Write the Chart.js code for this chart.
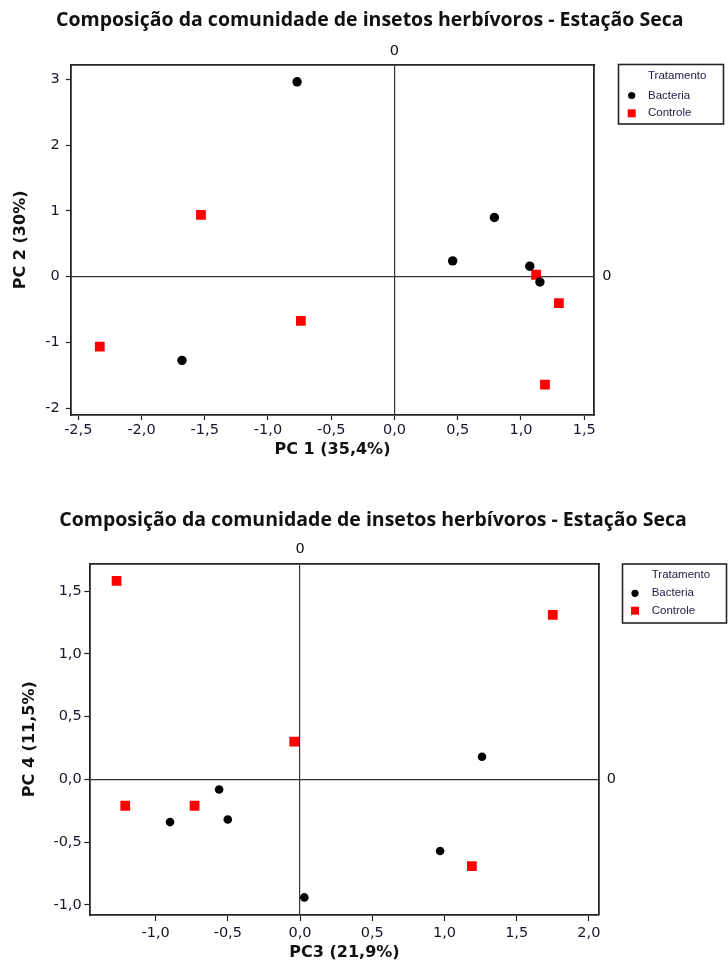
<!DOCTYPE html>
<html><head><meta charset="utf-8">
<script src="https://cdn.jsdelivr.net/npm/chart.js@4.4.1/dist/chart.umd.min.js"></script>
<style>
html,body{margin:0;padding:0;background:#fff;}
#wrap{position:relative;width:728px;height:966px;overflow:hidden;background:#fff;}
canvas{position:absolute;left:0;}
#c1{top:0}
#c2{top:480px}
</style></head><body>
<div id="wrap"><canvas id="c1" width="728" height="480"></canvas><canvas id="c2" width="728" height="486"></canvas></div>
<script>
// ---- data ----
const chartTitle = 'Composição da comunidade de insetos herbívoros - Estação Seca';
const seriesNames = ['Bacteria', 'Controle'];
const legendTitle = 'Tratamento';

// Plot 1: PC1 vs PC2
const pc1Bacteria = [-0.77, -1.68, 0.79, 0.46, 1.07, 1.15];
const pc2Bacteria = [2.96, -1.27, 0.90, 0.24, 0.16, -0.08];
const pc1Controle = [-1.53, -2.33, -0.74, 1.12, 1.30, 1.19];
const pc2Controle = [0.94, -1.06, -0.67, 0.03, -0.40, -1.64];
const xTicks1 = [-2.5, -2.0, -1.5, -1.0, -0.5, 0.0, 0.5, 1.0, 1.5];
const yTicks1 = [-2, -1, 0, 1, 2, 3];
const xTitle1 = 'PC 1 (35,4%)';
const yTitle1 = 'PC 2 (30%)';

// Plot 2: PC3 vs PC4
const pc3Bacteria = [-0.90, -0.56, -0.50, 0.03, 1.26, 0.97];
const pc4Bacteria = [-0.34, -0.08, -0.32, -0.94, 0.18, -0.57];
const pc3Controle = [-1.27, -1.21, -0.73, -0.04, 1.75, 1.19];
const pc4Controle = [1.58, -0.21, -0.21, 0.30, 1.31, -0.69];
const xTicks2 = [-1.0, -0.5, 0.0, 0.5, 1.0, 1.5, 2.0];
const yTicks2 = [-1.0, -0.5, 0.0, 0.5, 1.0, 1.5];
const xTitle2 = 'PC3 (21,9%)';
const yTitle2 = 'PC 4 (11,5%)';

const refTicks = [0];

// ---- helpers ----
const pts = (xs, ys) => xs.map((x, i) => ({x: x, y: ys[i]}));
const fmt1 = v => v.toFixed(1).replace('.', ',');
const fmt0 = v => String(Math.round(v));
const FRAME = '#252525';
const TICKCOL = '#16162c';
const TICKFONT = {family: 'DejaVu Sans', size: 14.5};
const AXTITLEFONT = {family: 'DejaVu Sans', size: 16, weight: 'bold'};

const boxLegend = {
  id: 'boxLegend',
  afterDraw(chart, args, o) {
    const ctx = chart.ctx;
    ctx.save();
    ctx.fillStyle = '#fff';
    ctx.fillRect(o.x, o.y, o.w, o.h);
    ctx.lineWidth = 1.6;
    ctx.strokeStyle = FRAME;
    ctx.strokeRect(o.x, o.y, o.w, o.h);
    ctx.font = '11.5px "Liberation Sans"';
    ctx.textBaseline = 'middle';
    ctx.textAlign = 'left';
    ctx.fillStyle = '#1c1c44';
    ctx.fillText(o.title, o.textX, o.titleY);
    chart.data.datasets.forEach((ds, i) => {
      const y = o.rows[i];
      ctx.fillStyle = ds.backgroundColor;
      if (ds.pointStyle === 'rect') {
        ctx.fillRect(o.markerX - 4, y - 4, 8, 8);
      } else {
        ctx.beginPath();
        ctx.arc(o.markerX, y, 3.6, 0, Math.PI * 2);
        ctx.fill();
      }
      ctx.fillStyle = '#1c1c44';
      ctx.fillText(ds.label, o.textX, y);
    });
    ctx.restore();
  }
};

function makeChart(id, cfg) {
  const mainX = {
    type: 'linear', position: 'bottom', min: cfg.xMin, max: cfg.xMax,
    afterBuildTicks: s => { s.ticks = cfg.xTicks.map(v => ({value: v})); },
    afterFit: s => { s.height = cfg.xH; },
    ticks: {callback: cfg.xFmt, color: TICKCOL, font: TICKFONT, padding: cfg.xPad, autoSkip: false, maxRotation: 0},
    grid: {display: true, drawOnChartArea: false, drawTicks: true, tickLength: cfg.tickLen, tickColor: FRAME, tickWidth: 1.2},
    border: {display: true, color: FRAME, width: 1.8},
    title: {display: true, text: cfg.xTitle, color: '#111', font: AXTITLEFONT, padding: 0}
  };
  const mainY = {
    type: 'linear', position: 'left', min: cfg.yMin, max: cfg.yMax,
    afterBuildTicks: s => { s.ticks = cfg.yTicks.map(v => ({value: v})); },
    afterFit: s => { s.width = cfg.yW; },
    ticks: {callback: cfg.yFmt, color: TICKCOL, font: TICKFONT, padding: cfg.yPad, autoSkip: false},
    grid: {display: true, drawOnChartArea: false, drawTicks: true, tickLength: cfg.tickLen, tickColor: FRAME, tickWidth: 1.2},
    border: {display: true, color: FRAME, width: 1.8},
    title: {display: true, text: cfg.yTitle, color: '#111', font: AXTITLEFONT, padding: {top: cfg.yTitleOff, bottom: 0}}
  };
  const refX = {
    type: 'linear', position: 'top', min: cfg.xMin, max: cfg.xMax,
    afterBuildTicks: s => { s.ticks = refTicks.map(v => ({value: v})); },
    afterFit: s => { s.height = cfg.x2H; },
    ticks: {callback: v => fmt0(v), color: '#111', font: TICKFONT, padding: 5, autoSkip: false, maxRotation: 0},
    grid: {display: true, drawOnChartArea: true, drawTicks: false, color: '#333333', lineWidth: 1.2},
    border: {display: true, color: FRAME, width: 1.8}
  };
  const refY = {
    type: 'linear', position: 'right', min: cfg.yMin, max: cfg.yMax,
    afterBuildTicks: s => { s.ticks = refTicks.map(v => ({value: v})); },
    afterFit: s => { s.width = cfg.y2W; },
    ticks: {callback: v => fmt0(v), color: '#111', font: TICKFONT, padding: 8, autoSkip: false},
    grid: {display: true, drawOnChartArea: true, drawTicks: false, color: '#333333', lineWidth: 1.2},
    border: {display: true, color: FRAME, width: 1.8}
  };
  return new Chart(document.getElementById(id), {
    type: 'scatter',
    data: {
      datasets: [
        {label: seriesNames[0], data: cfg.bac, backgroundColor: '#000000', borderColor: '#000000', borderWidth: 0,
         pointStyle: 'circle', pointRadius: cfg.dotR, pointHoverRadius: cfg.dotR},
        {label: seriesNames[1], data: cfg.con, backgroundColor: '#ff0000', borderColor: '#ff0000', borderWidth: 0,
         pointStyle: 'rect', pointRadius: 6.9, pointHoverRadius: 6.9}
      ]
    },
    options: {
      responsive: false, animation: false, devicePixelRatio: 1,
      layout: {padding: cfg.padding},
      scales: {x: mainX, y: mainY, x2: refX, y2: refY},
      plugins: {
        legend: {display: false},
        tooltip: {enabled: false},
        title: {display: true, text: chartTitle, color: '#111',
                font: {family: 'Open Sans', size: 19.5, weight: 'bold', lineHeight: 1.2}, padding: {top: cfg.titleTop, bottom: 0}},
        boxLegend: Object.assign({title: legendTitle}, cfg.legend)
      }
    },
    plugins: [boxLegend]
  });
}

makeChart('c1', {
  bac: pts(pc1Bacteria, pc2Bacteria), con: pts(pc1Controle, pc2Controle),
  xMin: -2.56, xMax: 1.58, yMin: -2.10, yMax: 3.22,
  xTicks: xTicks1, yTicks: yTicks1, xFmt: fmt1, yFmt: fmt0,
  xTitle: xTitle1, yTitle: yTitle1,
  padding: {left: 11.5, right: 0, top: 0, bottom: 20.5},
  yW: 59.2, y2W: 133.7, xH: 44.5, x2H: 33, titleTop: 8.3,
  xPad: 2, yPad: 6, tickLen: 5, yTitleOff: 0, dotR: 4.7,
  legend: {x: 618.5, y: 64.5, w: 105, h: 59.5, titleY: 75.5, rows: [95.5, 113.3], markerX: 631.7, textX: 648}
});

makeChart('c2', {
  bac: pts(pc3Bacteria, pc4Bacteria), con: pts(pc3Controle, pc4Controle),
  xMin: -1.452, xMax: 2.068, yMin: -1.08, yMax: 1.72,
  xTicks: xTicks2, yTicks: yTicks2, xFmt: fmt1, yFmt: fmt1,
  xTitle: xTitle2, yTitle: yTitle2,
  padding: {left: 18, right: 0, top: 0, bottom: 4},
  yW: 72.3, y2W: 129.3, xH: 47, x2H: 31.7, titleTop: 28.3,
  xPad: 3.6, yPad: 2.6, tickLen: 6, yTitleOff: 2, dotR: 4.3,
  legend: {x: 622.5, y: 84, w: 104, h: 59, titleY: 95, rows: [113.3, 130.7], markerX: 635, textX: 651.7}
});
</script>
</body></html>
